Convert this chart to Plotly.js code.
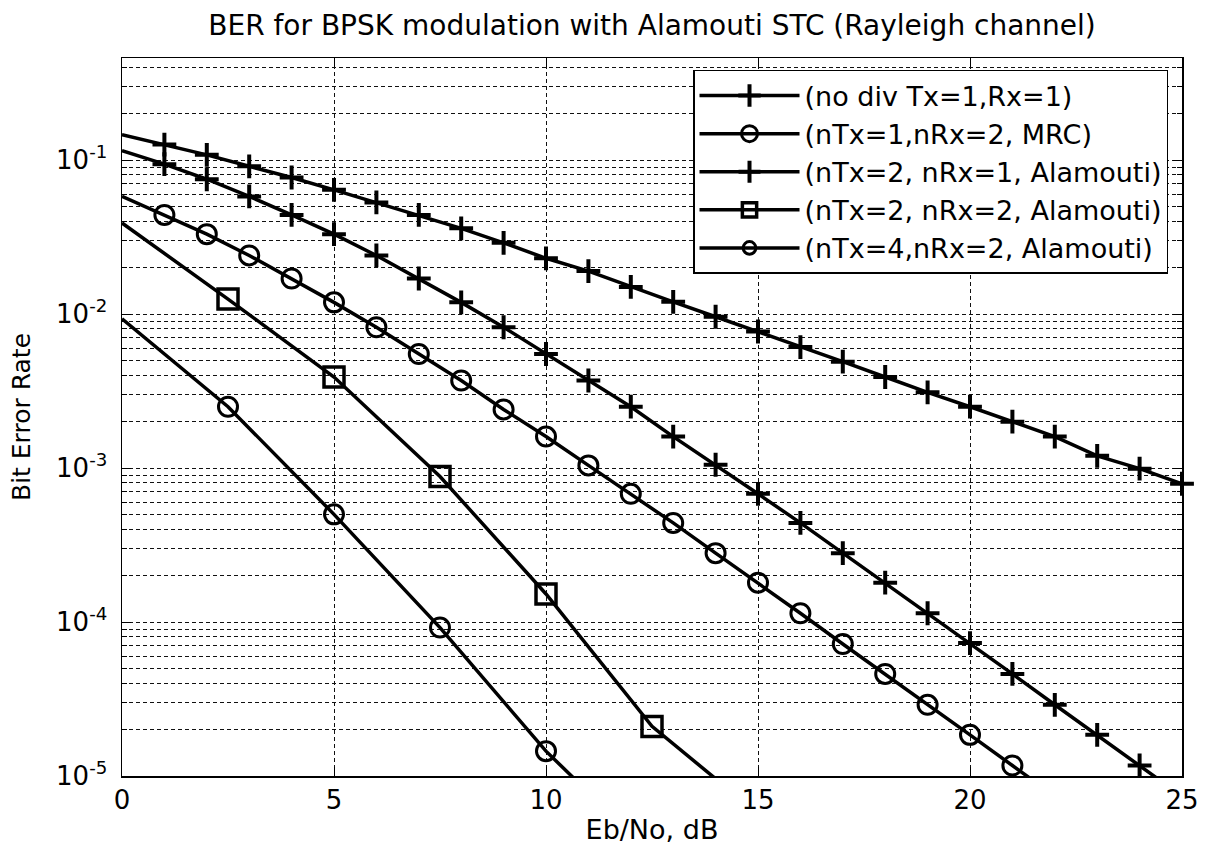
<!DOCTYPE html>
<html>
<head>
<meta charset="utf-8">
<script src="https://cdn.plot.ly/plotly-3.0.1.min.js"></script>
<style>
html,body{margin:0;padding:0;background:#fff;}
#chart{width:1209px;height:849px;}
</style>
</head>
<body>
<div id="chart"></div>
<script>
// Eb/No (dB) grids
const snrA = [0,1,2,3,4,5,6,7,8,9,10,11,12,13,14,15,16,17,18,19,20,21,22,23,24,25];
const snrB = [0,1,2,3,4,5,6,7,8,9,10,11,12,13,14,15,16,17,18,19,20,21,22];
const snrC = [0,1,2,3,4,5,6,7,8,9,10,11,12,13,14,15,16,17,18,19,20,21,22,23,24,25];
const snrD = [0,2.5,5,7.5,10,12.5,15];
const snrE = [0,2.5,5,7.5,10,12.5];

// BER values
const berNoDiv = [0.146,0.126,0.108,0.091,0.077,0.064,0.053,0.044,0.036,0.029,0.023,0.019,0.015,0.012,0.0096,0.0077,0.0061,0.0049,0.0039,0.0031,0.0025,0.0020,0.0016,0.0012,0.00099,0.00079];
const berMRC12 = [0.058,0.044,0.033,0.024,0.017,0.0119,0.0082,0.0055,0.0037,0.0024,0.0016,0.00104,0.00068,0.00044,0.00028,0.00018,0.000114,0.000072,0.000046,0.000029,0.0000185,0.0000117,0.0000074];
const berAla21 = [0.115,0.094,0.075,0.058,0.044,0.033,0.024,0.017,0.0119,0.0082,0.0055,0.0037,0.0025,0.0016,0.00105,0.00068,0.00044,0.00028,0.00018,0.000114,0.000073,0.000046,0.000029,0.0000185,0.0000117,0.0000074];
const berAla22 = [0.039,0.0125,0.0039,0.00088,0.000152,0.000021,0.0000057];
const berAla42 = [0.0093,0.0025,0.0005,0.000092,0.0000145,0.0000031];

const seriesNames = [
  '(no div Tx=1,Rx=1)',
  '(nTx=1,nRx=2, MRC)',
  '(nTx=2, nRx=1, Alamouti)',
  '(nTx=2, nRx=2, Alamouti)',
  '(nTx=4,nRx=2, Alamouti)'
];
const yTickVals = [1e-5,1e-4,1e-3,1e-2,1e-1];
const yTickText = ['10<sup>-5</sup>','10<sup>-4</sup>','10<sup>-3</sup>','10<sup>-2</sup>','10<sup>-1</sup>'];
const xTickVals = [0,5,10,15,20,25];

const YMIN = 1e-5;
function markerSizes(xs, ys, s){
  return xs.map((x,i)=> (x>0 && ys[i]>=YMIN) ? s : 0);
}
function mk(xs, ys, name, symbol, size, mlw, idx){
  return {
    x: xs, y: ys, name: name, type: 'scatter', mode: 'lines+markers',
    legendgroup: 'g'+idx,
    cliponaxis: false,
    line: {color:'#000', width:3.5},
    marker: {symbol: symbol, size: markerSizes(xs, ys, size), color:'#000', opacity:1,
             line:{color:'#000', width:mlw}}
  };
}

const traces = [
  mk(snrA, berNoDiv, seriesNames[0], 'cross-thin-open', 17, 4, 0),
  mk(snrB, berMRC12, seriesNames[1], 'circle-open', 19, 3, 1),
  mk(snrC, berAla21, seriesNames[2], 'cross-thin-open', 17, 4, 2),
  mk(snrD, berAla22, seriesNames[3], 'square-open', 20, 3.5, 3),
  mk(snrE, berAla42, seriesNames[4], 'circle-open', 19, 3, 4)
];

const gridDash = '4px,3px';
const layout = {
  width: 1209, height: 849,
  paper_bgcolor:'#fff', plot_bgcolor:'#fff',
  font: {family:'DejaVu Sans, Arial, sans-serif', color:'#000', size:24},
  margin: {l:122, r:27, t:58, b:73, pad:0},
  title: {text:'BER for BPSK modulation with Alamouti STC (Rayleigh channel)',
          font:{size:28, color:'#000'}, x:0.5, xref:'paper', y:1-25/849, yref:'container', yanchor:'middle'},
  showlegend: true,
  legend: {x:0.9868, xanchor:'right', y:0.9833, yanchor:'top',
           bgcolor:'#fff', bordercolor:'#000', borderwidth:1.5,
           font:{size:27, color:'#000'}, itemwidth:100, tracegroupgap:0,
           traceorder:'grouped'},
  xaxis: {
    range:[0,25], tickmode:'array', tickvals:xTickVals,
    ticks:'inside', ticklen:9, tickwidth:1, tickcolor:'#000',
    showline:true, linecolor:'#000', linewidth:1.5, mirror:'ticks',
    showgrid:true, gridcolor:'#111', gridwidth:1, griddash:gridDash,
    zeroline:false,
    tickfont:{size:26},
    title:{text:'Eb/No, dB', font:{size:27}, standoff:6}
  },
  yaxis: {
    type:'log', range:[-5, -5 + 718/154],
    tickmode:'array', tickvals:yTickVals, ticktext:yTickText,
    ticks:'inside', ticklen:9, tickwidth:1, tickcolor:'#000',
    showline:true, linecolor:'#000', linewidth:1.5, mirror:'ticks',
    showgrid:true, gridcolor:'#111', gridwidth:1, griddash:gridDash,
    zeroline:false,
    tickfont:{size:26},
    ticklabelstandoff:8,
    minor:{dtick:'D1', ticks:'inside', ticklen:5, tickcolor:'#000',
           showgrid:true, gridcolor:'#111', gridwidth:1, griddash:gridDash},
    title:{text:'Bit Error Rate', font:{size:25}, standoff:18}
  }
};

Plotly.newPlot('chart', traces, layout, {displayModeBar:false, staticPlot:true});
</script>
</body>
</html>
